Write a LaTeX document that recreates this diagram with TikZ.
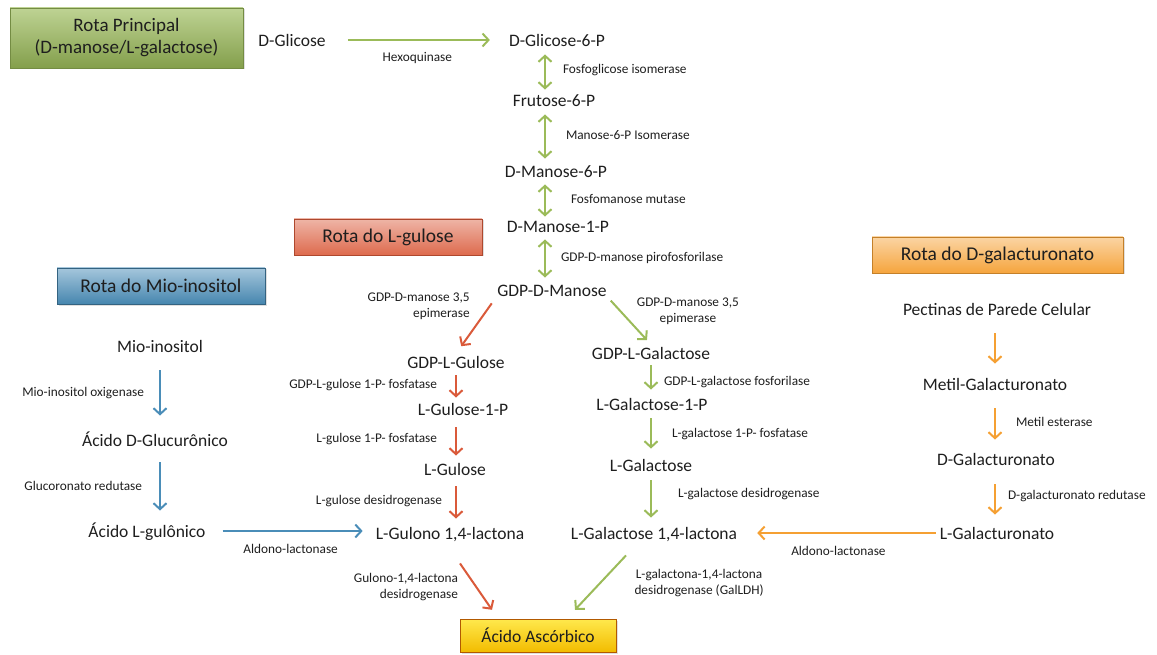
\documentclass[tikz,border=0pt]{standalone}
\usepackage{fontspec}
\setmainfont{Carlito}
\usetikzlibrary{arrows.meta,positioning,shadows}

\definecolor{txt}{RGB}{30,30,30}
\definecolor{verde}{RGB}{155,187,89}
\definecolor{vermelho}{RGB}{218,90,58}
\definecolor{azul}{RGB}{74,141,184}
\definecolor{laranja}{RGB}{245,160,51}

\begin{document}
\begin{tikzpicture}[x=1pt, y=-1pt,
	comp/.style={inner sep=2pt, text height=12.5pt, text depth=0pt, text=txt, font=\fontsize{17.5}{20}\selectfont},
	enz/.style={inner sep=1pt, text=txt, font=\fontsize{13.3}{16}\selectfont},
	rota/.style={draw, rectangle, inner sep=2pt, text=txt, font=\fontsize{19.5}{22}\selectfont,
		drop shadow={opacity=0.25, shadow xshift=1.5pt, shadow yshift=-1.5pt}},
	seta/.style={line width=2pt, -{Straight Barb[length=6pt, width=13pt]}},
	dupla/.style={line width=2pt, {Straight Barb[length=6pt, width=13pt]}-{Straight Barb[length=6pt, width=13pt]}},
]
	\useasboundingbox (0,0) rectangle (1157,655);

	% Title boxes of each pathway
	\node[rota, align=center, minimum width=233pt, minimum height=60pt, font=\fontsize{19}{22}\selectfont,
		top color=verde!65!white, bottom color=verde!85!black, draw=verde!75!black] (principal) at (126.5,38)
		{Rota Principal\\(D-manose/L-galactose)};
	\node[rota, minimum width=188pt, minimum height=36pt,
		top color=vermelho!45!white, bottom color=vermelho!90!white, draw=vermelho!80!black] (tgulose) at (388,237) {Rota do L-gulose};
	\node[rota, minimum width=208pt, minimum height=36pt,
		top color=azul!50!white, bottom color=azul!95!black, draw=azul!70!black] (tmio) at (161,286) {Rota do Mio-inositol};
	\node[rota, minimum width=251pt, minimum height=36pt,
		top color=laranja!45!white, bottom color=laranja!95!white, draw=laranja!80!black] (tgalac) at (997.5,255) {Rota do D-galacturonato};
	\node[rota, minimum width=156pt, minimum height=33pt, font=\fontsize{17.5}{20}\selectfont,
		top color=yellow!75!orange!70!white, bottom color=yellow!55!orange!95!black, draw=orange!70!black] (asc) at (538,635.5) {Ácido Ascórbico};

	% Main pathway (D-manose/L-galactose)
	\node[comp] (glc) at (292,40) {D-Glicose};
	\node[comp] (glc6p) at (557,40) {D-Glicose-6-P};
	\node[comp] (fru6p) at (554,100) {Frutose-6-P};
	\node[comp] (man6p) at (556,171) {D-Manose-6-P};
	\node[comp] (man1p) at (558,226) {D-Manose-1-P};
	\node[comp] (gdpman) at (552,290) {GDP-D-Manose};
	\node[comp] (gdpgal) at (651,353) {GDP-L-Galactose};
	\node[comp] (gal1p) at (652,404) {L-Galactose-1-P};
	\node[comp] (gal) at (651,465) {L-Galactose};
	\node[comp] (galac) at (654,533) {L-Galactose 1,4-lactona};

	% L-gulose pathway
	\node[comp] (gdpgul) at (456,362) {GDP-L-Gulose};
	\node[comp] (gul1p) at (463,409) {L-Gulose-1-P};
	\node[comp] (gul) at (455,469) {L-Gulose};
	\node[comp] (gulac) at (450,533) {L-Gulono 1,4-lactona};

	% Mio-inositol pathway
	\node[comp] (mio) at (160,346) {Mio-inositol};
	\node[comp] (acglc) at (155,440) {Ácido D-Glucurônico};
	\node[comp] (acgul) at (147,531) {Ácido L-gulônico};

	% D-galacturonato pathway
	\node[comp] (pect) at (997,309) {Pectinas de Parede Celular};
	\node[comp] (metil) at (995,384) {Metil-Galacturonato};
	\node[comp] (dgal) at (996,459) {D-Galacturonato};
	\node[comp] (lgal) at (997,533) {L-Galacturonato};

	% Axes of the vertical arrows
	\coordinate (eixoP) at (545,0);
	\coordinate (eixoG) at (651,0);
	\coordinate (eixoR) at (456,0);
	\coordinate (eixoA) at (160,0);
	\coordinate (eixoL) at (995,0);

	% Draw the arrows with the enzymes
	\draw[seta, verde, shorten <=20pt, shorten >=17pt] (glc) -- node[enz, below=10pt] {Hexoquinase} (glc6p);
	\draw[dupla, verde, shorten <=6pt, shorten >=2pt] (glc6p.south -| eixoP) -- node[enz, right=16pt] {Fosfoglicose isomerase} (fru6p.north -| eixoP);
	\draw[dupla, verde, shorten <=6pt, shorten >=4pt] (fru6p.south -| eixoP) -- node[enz, right=19pt] {Manose-6-P Isomerase} (man6p.north -| eixoP);
	\draw[dupla, verde, shorten <=5pt, shorten >=1pt] (man6p.south -| eixoP) -- node[enz, right=24pt] {Fosfomanose mutase} (man1p.north -| eixoP);
	\draw[dupla, verde, shorten <=5pt, shorten >=4pt] (man1p.south -| eixoP) -- node[enz, right=14pt] {GDP-D-manose pirofosforilase} (gdpman.north -| eixoP);

	\draw[seta, verde, shorten <=3pt, shorten >=6pt] (gdpman.south east) -- node[enz, align=center, midway, xshift=58pt, yshift=10pt] {GDP-D-manose 3,5\\epimerase} (gdpgal.north);
	\draw[seta, verde, shorten <=4pt, shorten >=6pt] (gdpgal.south -| eixoG) -- node[enz, right=11pt, yshift=-4pt] {GDP-L-galactose fosforilase} (gal1p.north -| eixoG);
	\draw[seta, verde, shorten <=6pt, shorten >=8pt] (gal1p.south -| eixoG) -- node[enz, right=19pt] {L-galactose 1-P- fosfatase} (gal.north -| eixoG);
	\draw[seta, verde, shorten <=7pt, shorten >=7pt] (gal.south -| eixoG) -- node[enz, right=25pt, yshift=5pt] {L-galactose desidrogenase} (galac.north -| eixoG);
	\draw[seta, verde] ([xshift=-28pt, yshift=-14pt]galac.south) -- node[enz, align=center, midway, right=32pt] {L-galactona-1,4-lactona\\desidrogenase (GalLDH)} ([xshift=37pt, yshift=9pt]asc.north);

	\draw[seta, vermelho, shorten <=6pt, shorten >=9pt] (gdpman.south west) -- node[enz, align=right, midway, left=4pt, yshift=20pt] {GDP-D-manose 3,5\\epimerase} (gdpgul.north);
	\draw[seta, vermelho, shorten <=5pt, shorten >=3pt] (gdpgul.south -| eixoR) -- node[enz, left=17pt] {GDP-L-gulose 1-P- fosfatase} (gul1p.north -| eixoR);
	\draw[seta, vermelho, shorten <=10pt, shorten >=5pt] (gul1p.south -| eixoR) -- node[enz, left=17pt] {L-gulose 1-P- fosfatase} (gul.north -| eixoR);
	\draw[seta, vermelho, shorten <=9pt, shorten >=6pt] (gul.south -| eixoR) -- node[enz, left=12pt] {L-gulose desidrogenase} (gulac.north -| eixoR);
	\draw[seta, vermelho] ([xshift=10pt, yshift=-22pt]gulac.south) -- node[enz, align=right, midway, left=16pt] {Gulono-1,4-lactona\\desidrogenase} ([xshift=-46pt, yshift=9pt]asc.north);

	\draw[seta, azul, shorten <=16pt, shorten >=16pt] (mio.south -| eixoA) -- node[enz, left=14pt] {Mio-inositol oxigenase} (acglc.north -| eixoA);
	\draw[seta, azul, shorten <=14pt, shorten >=12pt] (acglc.south -| eixoA) -- node[enz, left=16pt] {Glucoronato redutase} (acgul.north -| eixoA);
	\draw[seta, azul, shorten <=15pt, shorten >=11pt] (acgul.east) -- node[enz, below=11pt] {Aldono-lactonase} (acgul.east -| gulac.west);

	\draw[seta, laranja, shorten <=16pt, shorten >=12pt] (pect.south -| eixoL) -- (metil.north -| eixoL);
	\draw[seta, laranja, shorten <=16pt, shorten >=11pt] (metil.south -| eixoL) -- node[enz, right=19pt] {Metil esterase} (dgal.north -| eixoL);
	\draw[seta, laranja, shorten <=17pt, shorten >=10pt] (dgal.south -| eixoL) -- node[enz, right=11pt] {D-galacturonato redutase} (lgal.north -| eixoL);
	\draw[seta, laranja, shorten <=2pt, shorten >=18pt] (lgal.west) -- node[enz, below=11pt] {Aldono-lactonase} (lgal.west -| galac.east);
\end{tikzpicture}
\end{document}
